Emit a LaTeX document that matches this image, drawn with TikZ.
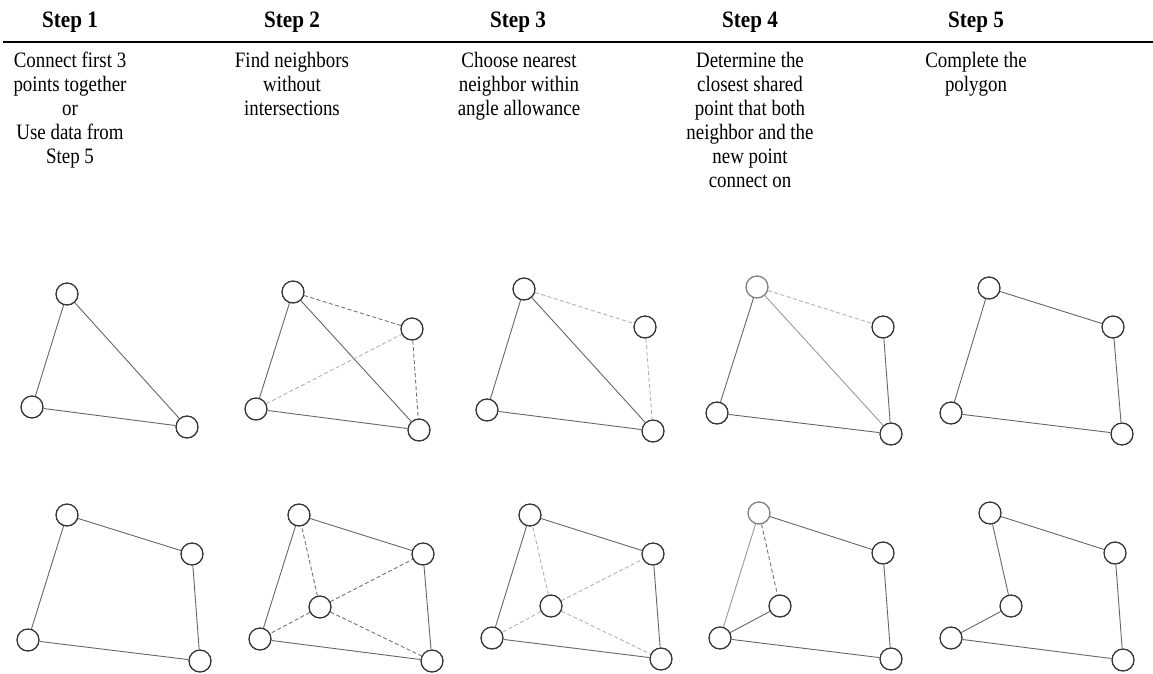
\documentclass[tikz,border=0pt]{standalone}
\usepackage{fontspec}
\setmainfont{Liberation Serif}
\begin{document}
\begin{tikzpicture}[x=1pt,y=-1pt,
  pt/.style={circle,draw=black!80,line width=1.3pt,minimum size=22pt,inner sep=0pt,fill=white},
  ptlight/.style={pt,draw=black!50},
  edge/.style={draw=black!60,line width=0.9pt},
  edgelight/.style={draw=black!40,line width=0.9pt},
  dashe/.style={draw=black!55,line width=0.9pt,dash pattern=on 4pt off 2.5pt},
  dashlight/.style={draw=black!30,line width=0.9pt,dash pattern=on 4pt off 2.5pt},
  head/.style={font=\bfseries\fontsize{23.5}{24}\selectfont,anchor=base,inner sep=0pt,transform shape,xscale=0.9},
  desc/.style={font=\fontsize{22}{24}\selectfont,align=center,anchor=north,inner sep=0pt,transform shape,xscale=0.86}]
\useasboundingbox (0,0) rectangle (1153,673);
% headers
\node[head] (h1) at (70,27) {Step 1};
\node[head] (h2) at (292,27) {Step 2};
\node[head] (h3) at (518,27) {Step 3};
\node[head] (h4) at (750,27) {Step 4};
\node[head] (h5) at (976,27) {Step 5};
\coordinate (rl) at (3,42);
\coordinate (rr) at (1153,42);
\draw[line width=2pt] (rl) -- (rr);
% descriptions
\node[desc] (d1) at (70,52) {Connect first 3\\points together\\or\\Use data from\\Step 5};
\node[desc] (d2) at (292,52) {Find neighbors\\without\\intersections};
\node[desc] (d3) at (519,52) {Choose nearest\\neighbor within\\angle allowance};
\node[desc] (d4) at (750,52) {Determine the\\closest shared\\point that both\\neighbor and the\\new point\\connect on};
\node[desc] (d5) at (976,52) {Complete the\\polygon};
% ---------- top row ----------
% A1
\node[pt] (a1t) at (67,294) {};
\node[pt] (a1l) at (32,407) {};
\node[pt] (a1b) at (187,427) {};
\draw[edge] (a1t) -- (a1l);
\draw[edge] (a1t) -- (a1b);
\draw[edge] (a1l) -- (a1b);
% A2
\node[pt] (a2t) at (293,292) {};
\node[pt] (a2r) at (412,329) {};
\node[pt] (a2l) at (256,409) {};
\node[pt] (a2b) at (419,430) {};
\draw[edge] (a2t) -- (a2l);
\draw[edge] (a2t) -- (a2b);
\draw[edge] (a2l) -- (a2b);
\draw[dashe] (a2t) -- (a2r);
\draw[dashe] (a2r) -- (a2b);
\draw[dashlight] (a2l) -- (a2r);
% A3
\node[pt] (a3t) at (524,289) {};
\node[pt] (a3r) at (645,327) {};
\node[pt] (a3l) at (487,410) {};
\node[pt] (a3b) at (653,431) {};
\draw[edge] (a3t) -- (a3l);
\draw[edge] (a3t) -- (a3b);
\draw[edge] (a3l) -- (a3b);
\draw[dashlight] (a3t) -- (a3r);
\draw[dashlight] (a3r) -- (a3b);
% A4
\node[ptlight] (a4t) at (757,287) {};
\node[pt] (a4r) at (883,327) {};
\node[pt] (a4l) at (717,413) {};
\node[pt] (a4b) at (891,434) {};
\draw[edge] (a4t) -- (a4l);
\draw[edgelight] (a4t) -- (a4b);
\draw[edge] (a4l) -- (a4b);
\draw[edge] (a4r) -- (a4b);
\draw[dashlight] (a4t) -- (a4r);
% A5
\node[pt] (a5t) at (989,288) {};
\node[pt] (a5r) at (1113,327) {};
\node[pt] (a5l) at (951,413) {};
\node[pt] (a5b) at (1122,434) {};
\draw[edge] (a5t) -- (a5r);
\draw[edge] (a5r) -- (a5b);
\draw[edge] (a5b) -- (a5l);
\draw[edge] (a5l) -- (a5t);
% ---------- bottom row ----------
% B1
\node[pt] (b1t) at (67,515) {};
\node[pt] (b1r) at (192,554) {};
\node[pt] (b1l) at (28,640) {};
\node[pt] (b1b) at (200,661) {};
\draw[edge] (b1t) -- (b1r);
\draw[edge] (b1r) -- (b1b);
\draw[edge] (b1b) -- (b1l);
\draw[edge] (b1l) -- (b1t);
% B2
\node[pt] (b2t) at (299,515) {};
\node[pt] (b2r) at (423,554) {};
\node[pt] (b2c) at (320,607) {};
\node[pt] (b2l) at (260,639) {};
\node[pt] (b2b) at (432,661) {};
\draw[edge] (b2t) -- (b2r);
\draw[edge] (b2r) -- (b2b);
\draw[edge] (b2b) -- (b2l);
\draw[edge] (b2l) -- (b2t);
\draw[dashe] (b2c) -- (b2t);
\draw[dashe] (b2c) -- (b2r);
\draw[dashe] (b2c) -- (b2l);
\draw[dashe] (b2c) -- (b2b);
% B3
\node[pt] (b3t) at (530,515) {};
\node[pt] (b3r) at (653,554) {};
\node[pt] (b3c) at (551,606) {};
\node[pt] (b3l) at (492,638) {};
\node[pt] (b3b) at (661,659) {};
\draw[edge] (b3t) -- (b3r);
\draw[edge] (b3r) -- (b3b);
\draw[edge] (b3b) -- (b3l);
\draw[edge] (b3l) -- (b3t);
\draw[dashlight] (b3c) -- (b3t);
\draw[dashlight] (b3c) -- (b3r);
\draw[dashlight] (b3c) -- (b3l);
\draw[dashlight] (b3c) -- (b3b);
% B4
\node[ptlight] (b4t) at (759,513) {};
\node[pt] (b4r) at (883,553) {};
\node[pt] (b4c) at (780,606) {};
\node[pt] (b4l) at (720,638) {};
\node[pt] (b4b) at (891,659) {};
\draw[edge] (b4t) -- (b4r);
\draw[edge] (b4r) -- (b4b);
\draw[edge] (b4b) -- (b4l);
\draw[edgelight] (b4l) -- (b4t);
\draw[dashe] (b4t) -- (b4c);
\draw[edge] (b4c) -- (b4l);
% B5
\node[pt] (b5t) at (990,513) {};
\node[pt] (b5r) at (1115,553) {};
\node[pt] (b5c) at (1011,606) {};
\node[pt] (b5l) at (951,638) {};
\node[pt] (b5b) at (1123,660) {};
\draw[edge] (b5t) -- (b5r);
\draw[edge] (b5r) -- (b5b);
\draw[edge] (b5b) -- (b5l);
\draw[edge] (b5l) -- (b5c);
\draw[edge] (b5c) -- (b5t);
\end{tikzpicture}
\end{document}
